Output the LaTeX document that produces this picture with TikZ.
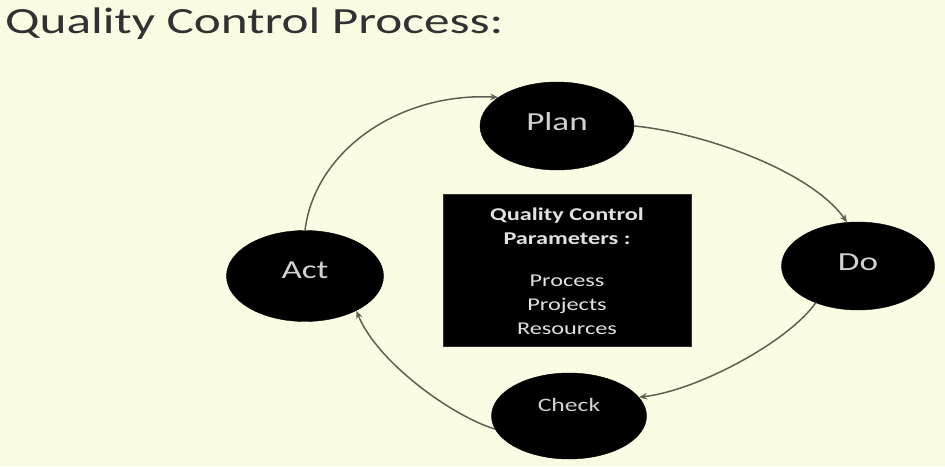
\documentclass[tikz,border=0pt]{standalone}
\usepackage{fontspec}
\setmainfont{Carlito}
\usetikzlibrary{shapes.geometric,arrows.meta}
\definecolor{bgc}{RGB}{252,251,228}
\definecolor{titlec}{RGB}{50,50,50}
\definecolor{lblc}{RGB}{210,210,210}
\definecolor{boxtc}{RGB}{225,225,225}
\definecolor{linec}{RGB}{95,95,82}
\tikzset{
  phase/.style={ellipse, fill=black, draw=black, inner sep=0pt, text=lblc,
    font=\fontsize{26}{30}\selectfont},
  arr/.style={draw=linec, line width=1.5pt, -{Stealth[length=8pt,width=6.5pt]}},
}
\begin{document}
\begin{tikzpicture}[x=1pt,y=-1pt]
\useasboundingbox[fill=bgc] (0,0) rectangle (945,466);
% title
\node[anchor=base west, inner sep=0pt, text=titlec, font=\fontsize{37}{40}\selectfont]
  (title) at (5,33) {\scalebox{1.385}[1]{Quality Control Process:}};
% phases
\node[phase, minimum width=154, minimum height=88, text height=18, text depth=9]
  (plan) at (557,126) {\scalebox{1.35}[1]{Plan}};
\node[phase, minimum width=157, minimum height=91, text height=18, text depth=13]
  (act) at (305,276) {\scalebox{1.35}[1]{Act}};
\node[phase, minimum width=153, minimum height=88, text height=18, text depth=9]
  (do) at (858,266) {\scalebox{1.35}[1]{Do}};
\node[phase, minimum width=155, minimum height=86, text height=10, text depth=20,
  font=\fontsize{19}{22}\selectfont]
  (check) at (569,416) {\scalebox{1.35}[1]{Check}};
% parameters box
\node[rectangle, fill=black, draw=black!80, minimum width=248, minimum height=152, inner sep=0pt]
  (box) at (567,270) {};
\node[inner sep=0pt, text=boxtc, font=\fontsize{18}{24}\selectfont]
  (params) at (567,273) {\scalebox{1.35}[1]{\begin{tabular}{@{}c@{}}
  \textbf{Quality Control}\\ \textbf{Parameters :}\\[18pt]
  Process\\ Projects\\ Resources\end{tabular}}};
% cycle arrows
\draw[arr] (act.north) .. controls (315,150) and (400,92) .. (plan.154);
\draw[arr] (plan.east) .. controls (700,132) and (810,170) .. (do.104);
\draw[arr] (do.221) .. controls (790,340) and (700,390) .. (check.15);
\draw[arr] (check.190) .. controls (452,416) and (377,362) .. (act.326);
\end{tikzpicture}
\end{document}
